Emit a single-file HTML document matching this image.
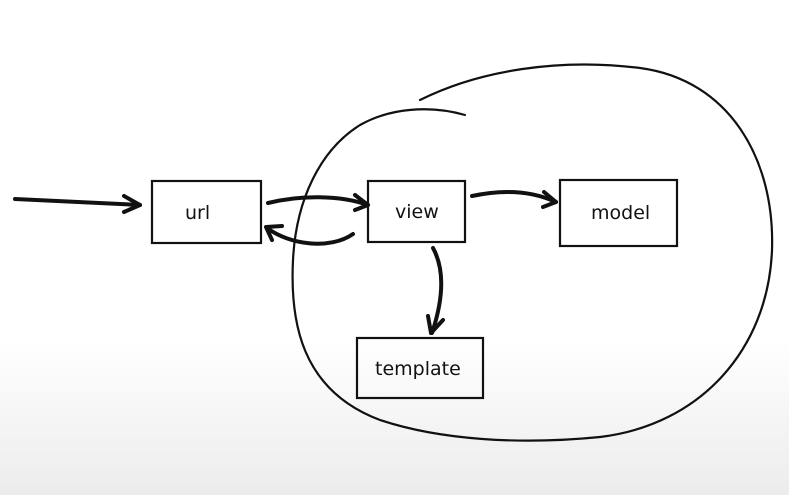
<!DOCTYPE html>
<html><head><style>
body{margin:0;width:789px;height:495px;overflow:hidden;background:linear-gradient(#fff 0,#fff 340px,#ececec 495px);}
svg{position:absolute;left:0;top:0}
text{font-family:"Comic Sans MS","DejaVu Sans",sans-serif;font-size:19px;fill:#111}
</style></head><body>
<svg width="789" height="495" viewBox="0 0 789 495">
<g fill="none" stroke="#111" stroke-width="2.2" stroke-linecap="round">
<rect x="152" y="181" width="109" height="62"/>
<rect x="368" y="181" width="97" height="61"/>
<rect x="560" y="180" width="117" height="66"/>
<rect x="357" y="338" width="126" height="60"/>
<path d="M420 100 C480 70 560 58 640 68 C730 80 775 160 772 250 C768 350 700 425 600 437 C520 445 440 440 380 420 C300 390 290 320 293 260 C296 200 320 150 360 125 C390 108 430 105 465 115"/>
</g>
<g fill="none" stroke="#111" stroke-width="4" stroke-linecap="round" stroke-linejoin="round">
<path d="M15 199 L140 205"/><path d="M124 196 L140 205 L124 212"/>
<path d="M268 203 C300 195 340 195 368 205"/><path d="M355 195 L368 205 L355 210"/>
<path d="M353 234 C330 250 290 245 267 228"/><path d="M272 240 L266 227 L282 226"/>
<path d="M472 196 C500 190 530 190 556 202"/><path d="M544 192 L556 202 L543 207"/>
<path d="M433 248 C445 270 443 300 432 333"/><path d="M428 316 L431 333 L443 320"/>
</g>
<text x="185" y="219">url</text>
<text x="395" y="218">view</text>
<text x="591" y="219">model</text>
<text x="375" y="375">template</text>
</svg>
</body></html>
